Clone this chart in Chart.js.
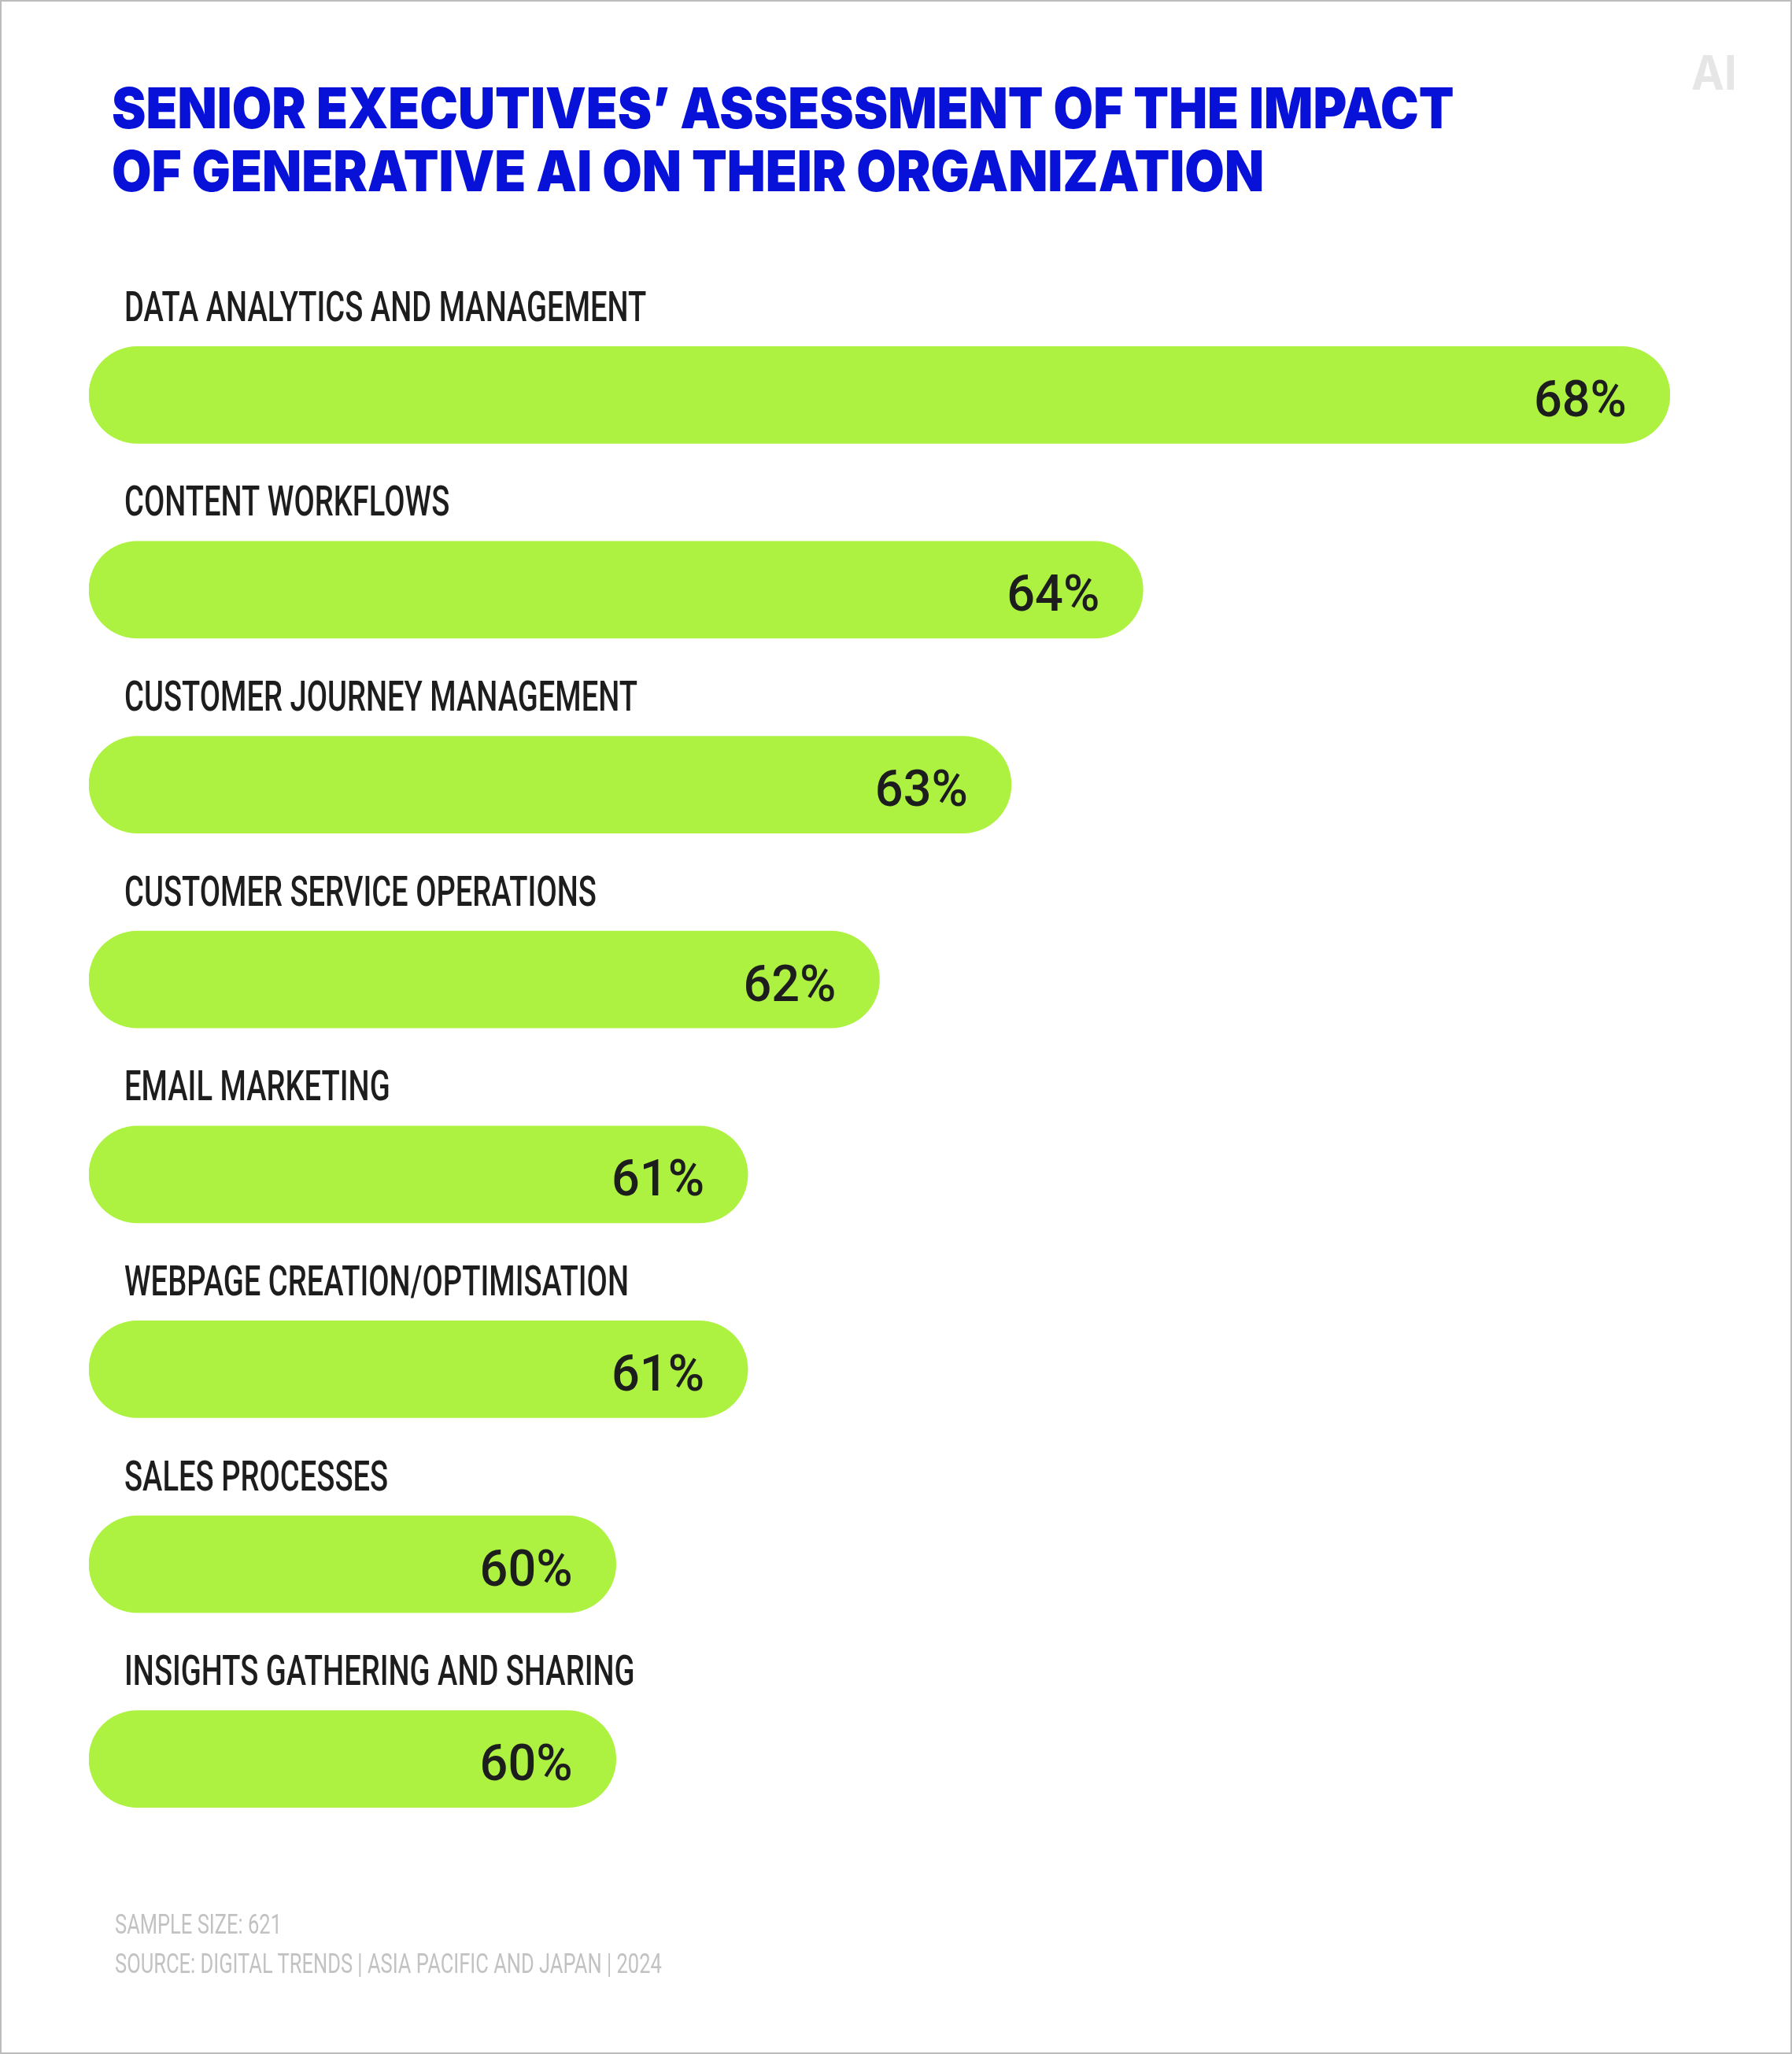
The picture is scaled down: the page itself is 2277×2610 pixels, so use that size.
<!DOCTYPE html>
<html>
<head>
<meta charset="utf-8">
<script src="https://cdn.jsdelivr.net/npm/chart.js@4/dist/chart.umd.min.js"></script>
<style>
  html, body { margin: 0; padding: 0; background: #fff; }
  #page {
    position: relative; width: 2277px; height: 2610px;
    border: 2px solid #bcbcbc; box-sizing: border-box; overflow: hidden;
  }
  #chart { position: absolute; left: 0; top: 0; }
  .txt {
    position: absolute; white-space: nowrap; line-height: 1;
    transform-origin: 0 0; display: inline-block;
  }
  .title { font-family: Inter, Roboto, sans-serif; font-weight: 900; font-size: 72px; color: #0711d8; left: 140px; }
  .foot { font-family: Roboto, sans-serif; font-size: 35px; color: #c2c2c2; left: 144px; }
  #logo { font-family: Inter, Roboto, sans-serif; font-weight: 700; font-size: 61px; color: #e6e6e6; left: 2147px; top: 60px; }
</style>
</head>
<body>
<div id="page">
  <canvas id="chart" width="2277" height="2610"></canvas>
  <div class="txt title" id="t1" style="top:99px">SENIOR EXECUTIVES’ ASSESSMENT OF THE IMPACT</div>
  <div class="txt title" id="t2" style="top:179px">OF GENERATIVE AI ON THEIR ORGANIZATION</div>
  <div class="txt" id="logo">AI</div>
  <div class="txt foot" id="f1" style="top:2426px">SAMPLE SIZE: 621</div>
  <div class="txt foot" id="f2" style="top:2476px">SOURCE: DIGITAL TRENDS | ASIA PACIFIC AND JAPAN | 2024</div>
</div>
<script>
const categories = [
  'DATA ANALYTICS AND MANAGEMENT',
  'CONTENT WORKFLOWS',
  'CUSTOMER JOURNEY MANAGEMENT',
  'CUSTOMER SERVICE OPERATIONS',
  'EMAIL MARKETING',
  'WEBPAGE CREATION/OPTIMISATION',
  'SALES PROCESSES',
  'INSIGHTS GATHERING AND SHARING'
];
const shares = [68, 64, 63, 62, 61, 61, 60, 60];
const axisMin = 56;
const axisMax = 68;

// squeeze a pair of lines to the width the first one should have
function fit(ids, width) {
  const first = document.getElementById(ids[0]);
  const k = width / first.scrollWidth;
  ids.forEach(id => {
    document.getElementById(id).style.transform = `scaleX(${k})`;
  });
}

// category names above the bars and percentages inside them
const barText = {
  id: 'barText',
  afterDatasetsDraw(chart) {
    const ctx = chart.ctx;
    const meta = chart.getDatasetMeta(0);
    ctx.save();
    ctx.fillStyle = '#1d1d1d';
    ctx.textBaseline = 'alphabetic';
    meta.data.forEach((bar, i) => {
      // label
      ctx.save();
      ctx.font = '500 53px Roboto';
      ctx.textAlign = 'left';
      ctx.translate(chart.chartArea.left + 45, bar.y - 94);
      ctx.scale(0.72, 1);
      ctx.fillText(chart.data.labels[i], 0, 0);
      ctx.restore();
      // value
      ctx.save();
      ctx.font = '500 65px Roboto';
      ctx.textAlign = 'right';
      ctx.translate(bar.x - 55, bar.y + 27);
      ctx.scale(0.97, 1);
      ctx.fillText(shares[i] + '%', 0, 0);
      ctx.restore();
    });
    ctx.restore();
  }
};

function draw() {
  fit(['t1', 't2'], 1706);
  fit(['f2', 'f1'], 695);
  fit(['logo'], 58);

  new Chart(document.getElementById('chart'), {
    type: 'bar',
    data: {
      labels: categories,
      datasets: [{
        data: shares,
        base: axisMin,
        backgroundColor: '#aef241',
        borderRadius: 62,
        borderSkipped: false,
        barThickness: 123
      }]
    },
    options: {
      indexAxis: 'y',
      responsive: false,
      animation: false,
      layout: { padding: { left: 111, right: 157, top: 376, bottom: 253 } },
      scales: {
        x: { display: false, min: axisMin, max: axisMax },
        y: { display: false }
      },
      plugins: {
        legend: { display: false },
        tooltip: { enabled: false }
      }
    },
    plugins: [barText]
  });
}

Promise.all([
  document.fonts.load('500 53px Roboto'),
  document.fonts.load('500 65px Roboto'),
  document.fonts.load('900 72px Inter'),
  document.fonts.load('700 61px Inter')
]).then(draw, draw);
</script>
</body>
</html>
